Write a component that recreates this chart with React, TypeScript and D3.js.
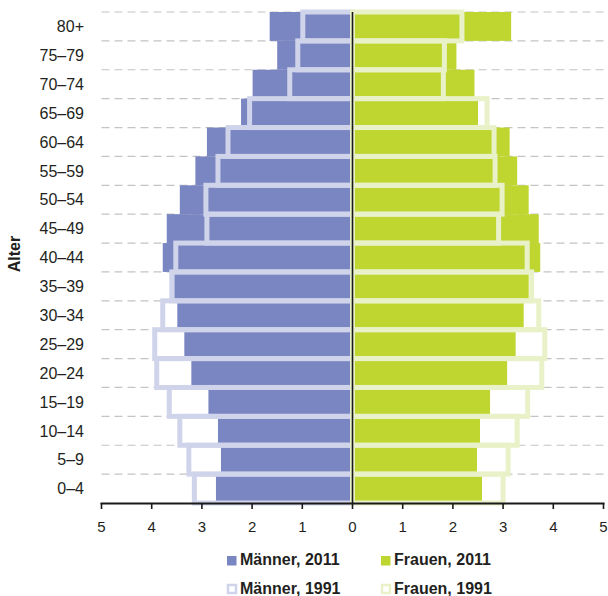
import React from "react";
import * as d3 from "d3";

const ageGroups = ["0–4", "5–9", "10–14", "15–19", "20–24", "25–29", "30–34", "35–39", "40–44", "45–49", "50–54", "55–59", "60–64", "65–69", "70–74", "75–79", "80+"];
const maenner2011 = [2.72, 2.62, 2.68, 2.87, 3.21, 3.35, 3.49, 3.55, 3.78, 3.7, 3.44, 3.13, 2.9, 2.22, 1.99, 1.5, 1.65];
const maenner1991 = [3.15, 3.26, 3.44, 3.65, 3.9, 3.94, 3.78, 3.6, 3.52, 2.9, 2.92, 2.68, 2.48, 2.05, 1.25, 1.09, 0.99];
const frauen2011 = [2.58, 2.48, 2.54, 2.74, 3.08, 3.25, 3.41, 3.51, 3.74, 3.71, 3.51, 3.28, 3.13, 2.5, 2.43, 2.07, 3.16];
const frauen1991 = [3.0, 3.1, 3.28, 3.49, 3.77, 3.83, 3.71, 3.57, 3.48, 2.91, 2.98, 2.84, 2.82, 2.68, 1.81, 1.83, 2.18];
const xTicks = [-5, -4, -3, -2, -1, 0, 1, 2, 3, 4, 5];

const C_M11 = "#7a86c2";
const C_F11 = "#bfd630";
const C_M91 = "#d0d4ea";
const C_F91 = "#e9f1c8";
const TXT = "#231f20";

export default function App() {
  const W = 608, H = 596;
  const x = d3.scaleLinear().domain([-5, 5]).range([101.5, 603.5]);
  const y = d3.scaleBand<string>().domain([...ageGroups].reverse()).range([12, 503]).padding(0);
  const bw = y.bandwidth();
  const x0 = x(0);
  const gridYs = ageGroups.map((g) => y(g) as number);

  return (
    <svg width={W} height={H} style={{ position: "absolute", left: 0, top: 0, fontFamily: "'Liberation Sans', Arial, sans-serif" }}>
      <rect x={0} y={0} width={W} height={H} fill="#fff" />
      {gridYs.map((gy, i) => (
        <line key={"g" + i} x1={x(-5)} x2={x(5)} y1={gy} y2={gy} stroke="#c4c4c4" strokeWidth={1.2} strokeDasharray="8 5" />
      ))}
      {ageGroups.map((g, i) => (
        <g key={"b11" + i}>
          <rect x={x(-maenner2011[i])} y={y(g)} width={x0 - x(-maenner2011[i])} height={bw} fill={C_M11} />
          <rect x={x0} y={y(g)} width={x(frauen2011[i]) - x0} height={bw} fill={C_F11} />
        </g>
      ))}
      {ageGroups.map((g, i) => (
        <g key={"b91" + i}>
          <rect x={x(-maenner1991[i])} y={y(g)} width={x0 - x(-maenner1991[i])} height={bw} fill="none" stroke={C_M91} strokeWidth={5} />
          <rect x={x0} y={y(g)} width={x(frauen1991[i]) - x0} height={bw} fill="none" stroke={C_F91} strokeWidth={5} />
        </g>
      ))}
      <line x1={x0} x2={x0} y1={12} y2={503} stroke="#1a1a1a" strokeWidth={1.6} />
      {ageGroups.map((g, i) => (
        <text key={"l" + i} x={84} y={(y(g) as number) + bw / 2} dy="0.36em" textAnchor="end" fontSize={16} fill={TXT}>{g}</text>
      ))}
      <line x1={x(-5) - 1} x2={x(5) + 1} y1={503.5} y2={503.5} stroke="#1a1a1a" strokeWidth={2} />
      {xTicks.map((t) => (
        <g key={"t" + t}>
          <line x1={x(t)} x2={x(t)} y1={503} y2={509} stroke="#1a1a1a" strokeWidth={1.6} />
          <text x={x(t)} y={532} textAnchor="middle" fontSize={15} fill={TXT}>{Math.abs(t)}</text>
        </g>
      ))}
      <text transform="translate(20,254) rotate(-90)" textAnchor="middle" fontSize={16} fontWeight="bold" fill={TXT}>Alter</text>
      <rect x={227} y={556} width={9.5} height={9.5} fill={C_M11} />
      <text x={240} y={565} fontSize={16} fontWeight="bold" fill={TXT}>Männer, 2011</text>
      <rect x={381} y={556} width={9.5} height={9.5} fill={C_F11} />
      <text x={394} y={565} fontSize={16} fontWeight="bold" fill={TXT}>Frauen, 2011</text>
      <rect x={228} y={585} width={8} height={8} fill="#fff" stroke={C_M91} strokeWidth={2.5} />
      <text x={240} y={594} fontSize={16} fontWeight="bold" fill={TXT}>Männer, 1991</text>
      <rect x={382} y={585} width={8} height={8} fill="#fff" stroke={C_F91} strokeWidth={2.5} />
      <text x={394} y={594} fontSize={16} fontWeight="bold" fill={TXT}>Frauen, 1991</text>
    </svg>
  );
}
